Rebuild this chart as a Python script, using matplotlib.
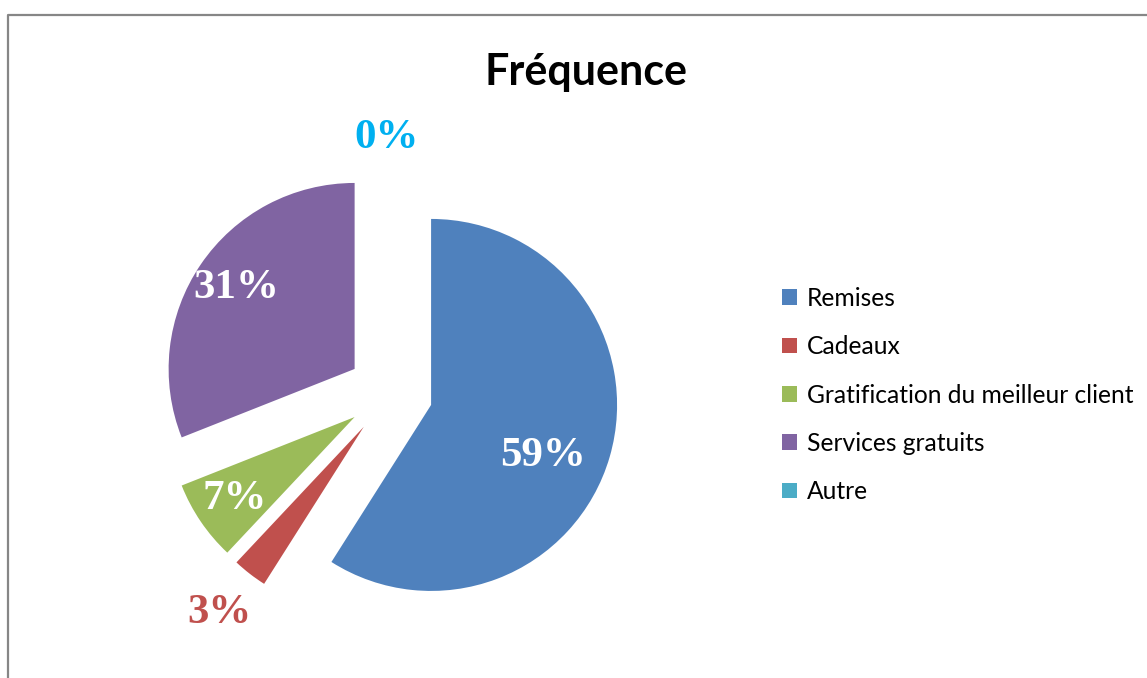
import numpy as np
import matplotlib
matplotlib.use("Agg")
import matplotlib.pyplot as plt
from matplotlib.patches import Patch
from matplotlib.lines import Line2D

# données du graphique
categories = ["Remises", "Cadeaux", "Gratification du meilleur client", "Services gratuits", "Autre"]
pourcentages = [59, 3, 7, 31, 0]
couleurs = ["#4F81BD", "#C0504D", "#9BBB59", "#8064A2", "#4BACC6"]
etiquettes = ["59%", "3%", "7%", "31%", "0%"]
couleurs_etiq = ["white", "#C0504D", "white", "white", "#00B0F0"]
dist_etiq = [0.66, 1.27, 0.78, 0.77, 1.14]   # distance du label / rayon
decal_etiq = [-8.5, 0, 0, 0, 1]              # décalage angulaire du label (degrés)

W, H = 1147, 678
fig = plt.figure(figsize=(W / 100, H / 100), dpi=100)

# cadre gris autour du graphique
fig.add_artist(Line2D([8 / W, 8 / W, 1.02], [-0.02, 1 - 15 / H, 1 - 15 / H],
                      transform=fig.transFigure, color="#868686", lw=1.6))

# axes du camembert : centre en (390, 393) px, rayon 186 px
cx, cy, half = 390, H - 393, 300
ax = fig.add_axes([(cx - half) / W, (cy - half) / H, 2 * half / W, 2 * half / H])

wedges, _ = ax.pie(pourcentages, colors=couleurs, startangle=90, counterclock=False,
                   explode=[0.23] * len(pourcentages), radius=1,
                   wedgeprops=dict(linewidth=0))
lim = half / 186
ax.set_xlim(-lim, lim)
ax.set_ylim(-lim, lim)
ax.set_aspect("equal")
ax.axis("off")

for w, txt, col, d, da in zip(wedges, etiquettes, couleurs_etiq, dist_etiq, decal_etiq):
    theta = np.deg2rad((w.theta1 + w.theta2) / 2 + da)
    x = w.center[0] + d * w.r * np.cos(theta)
    y = w.center[1] + d * w.r * np.sin(theta)
    ax.text(x, y, txt, ha="center", va="center", color=col, fontsize=31,
            fontweight="bold", family="Liberation Serif")

fig.text(586 / W, 1 - 72 / H, "Fréquence", ha="center", va="center",
         fontsize=31, fontweight="bold", family="Lato")

handles = [Patch(facecolor=c, edgecolor="none") for c in couleurs]
fig.legend(handles, categories, loc="center left", bbox_to_anchor=(770 / W, 1 - 395 / H),
           frameon=False, prop=dict(family="Lato", size=17.7), handlelength=0.6,
           handleheight=0.6, handletextpad=0.4, labelspacing=1.03, borderpad=0)

fig.savefig("out.png", dpi=100)
